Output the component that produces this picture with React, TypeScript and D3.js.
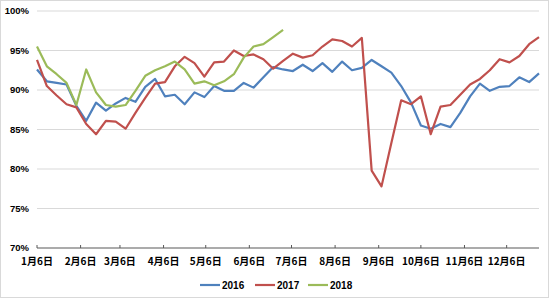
import React from "react";
import * as d3 from "d3";

const seriesNames = ["2016", "2017", "2018"];
const colors = ["#4F81BD", "#C0504D", "#9BBB59"];

const s2016 = [92.6, 91.1, 90.9, 90.7, 88.0, 86.1, 88.4, 87.4, 88.3, 89.0, 88.5, 90.4, 91.4,
  89.2, 89.4, 88.2, 89.7, 89.1, 90.5, 89.9, 89.9, 90.9, 90.3, 91.6, 92.9, 92.6,
  92.4, 93.2, 92.4, 93.4, 92.3, 93.6, 92.5, 92.8, 93.8, 93.0, 92.2, 90.5, 88.4,
  85.5, 85.1, 85.7, 85.3, 87.1, 89.2, 90.8, 89.9, 90.4, 90.5, 91.6, 91.0, 92.1];
const s2017 = [93.8, 90.5, 89.3, 88.2, 87.8, 85.7, 84.4, 86.1, 86.0, 85.1, 87.1, 89.0, 90.8,
  91.0, 93.0, 94.2, 93.4, 91.7, 93.5, 93.6, 95.0, 94.3, 94.5, 93.9, 92.7, 93.7,
  94.6, 94.1, 94.4, 95.5, 96.4, 96.2, 95.5, 96.6, 79.8, 77.8, 83.3, 88.7, 88.2,
  89.2, 84.4, 87.9, 88.1, 89.4, 90.7, 91.4, 92.5, 93.9, 93.5, 94.3, 95.8, 96.7];
const s2018 = [95.5, 93.0, 92.0, 90.9, 88.1, 92.6, 89.7, 88.1, 87.9, 88.1, 89.9, 91.8, 92.5,
  93.0, 93.6, 92.6, 90.8, 91.1, 90.6, 91.1, 92.0, 94.1, 95.5, 95.8, 96.7, 97.6];

const yTicks = [70, 75, 80, 85, 90, 95, 100];
const monthLabels = ["1月6日", "2月6日", "3月6日", "4月6日", "5月6日", "6月6日",
  "7月6日", "8月6日", "9月6日", "10月6日", "11月6日", "12月6日"];

const W = 550, H = 300;
const left = 37, right = 539, top = 11, bottom = 248;

export default function App() {
  const start = new Date(2017, 0, 6);
  const weekDate = (i: number) => d3.timeDay.offset(start, i * 7);
  const x = d3.scaleTime().domain([start, weekDate(51)]).range([left, right]);
  const y = d3.scaleLinear().domain([70, 100]).range([bottom, top]);
  const line = d3.line<number>().x((_, i) => x(weekDate(i))).y((d) => y(d));
  const all = [s2016, s2017, s2018];
  const font = "'Liberation Sans', Arial, sans-serif";
  const cjk = "'Noto Sans CJK SC', 'Liberation Sans', sans-serif";
  const legendX = [200, 255, 308];

  return (
    <svg width={W} height={H} style={{ position: "absolute", left: 0, top: 0, background: "#fff" }}>
      <rect x={0.5} y={0.5} width={W - 2} height={H - 3} fill="#fff" stroke="#d9d9d9" />
      {yTicks.map((t) => (
        <g key={t}>
          {t > 70 && (
            <line x1={left} x2={right} y1={y(t)} y2={y(t)} stroke="#d9d9d9" strokeWidth={1} />
          )}
          <text x={29} y={y(t)} dy="0.35em" textAnchor="end" fontFamily={font}
            fontWeight="bold" fontSize={9.5} fill="#000">{t}%</text>
        </g>
      ))}
      <line x1={left} x2={right} y1={bottom} y2={bottom} stroke="#595959" strokeWidth={1.2} />
      {monthLabels.map((lab, m) => {
        const xx = x(new Date(2017, m, 6));
        return (
          <g key={lab}>
            <line x1={xx} x2={xx} y1={bottom - 3} y2={bottom} stroke="#595959" strokeWidth={1} />
            <text x={xx} y={265} textAnchor="middle" fontFamily={cjk} fontWeight="bold"
              fontSize={10} fill="#000">{lab}</text>
          </g>
        );
      })}
      {all.map((s, i) => (
        <path key={i} d={line(s) || ""} fill="none" stroke={colors[i]} strokeWidth={2.2}
          strokeLinejoin="round" />
      ))}
      {seriesNames.map((n, i) => (
        <g key={n}>
          <line x1={legendX[i]} x2={legendX[i] + 20} y1={285} y2={285} stroke={colors[i]} strokeWidth={2.2} />
          <text x={legendX[i] + 22} y={285} dy="0.35em" fontFamily={font} fontWeight="bold"
            fontSize={10} fill="#000">{n}</text>
        </g>
      ))}
    </svg>
  );
}
